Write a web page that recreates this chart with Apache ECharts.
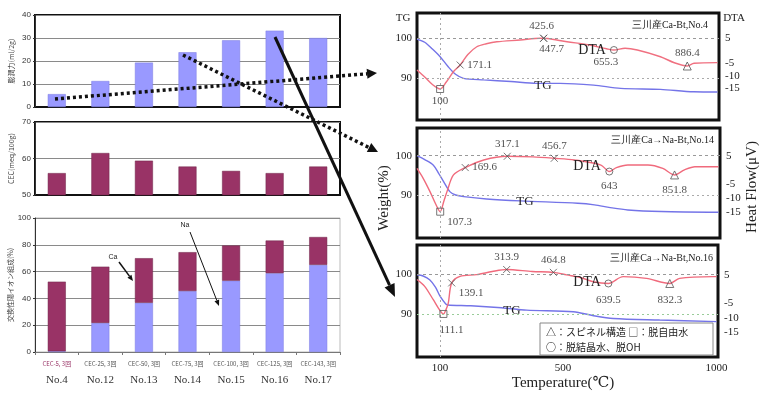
<!DOCTYPE html>
<html>
<head>
<meta charset="utf-8">
<script src="https://cdn.jsdelivr.net/npm/echarts@6/dist/echarts.min.js"></script>
<style>
  html, body { margin: 0; padding: 0; background: #fff; }
  #chart { width: 763px; height: 394px; }
</style>
</head>
<body>
<div id="chart"></div>
<script>
// ---- left side: bar panels ----
const categories = ['CEC-5, 3回', 'CEC-25, 3回', 'CEC-50, 3回', 'CEC-75, 3回', 'CEC-100, 3回', 'CEC-125, 3回', 'CEC-143, 3回'];
const sampleNos = ['No.4', 'No.12', 'No.13', 'No.14', 'No.15', 'No.16', 'No.17'];
const swelling = [5.6, 11.3, 19.3, 23.8, 29, 33.2, 30];
const cecValues = [56.0, 61.5, 59.4, 57.8, 56.6, 56.0, 57.8];
const naShare = [0.5, 21.7, 36.7, 45.5, 53.2, 58.8, 65];
const caShare = [52, 42, 33.3, 29, 26.3, 24.4, 20.8];

// ---- right side: TG / DTA curves (temperature, value) ----
const tgNo4 = [[25, 99.8], [50, 99], [75, 97.3], [100, 95.4], [125, 93], [150, 91], [176, 90], [241, 89.6], [330, 89.2],
  [414, 88.75], [490, 88.75], [598, 88.3], [686, 87.5], [815, 87.25], [923, 86.65], [1000, 86.6]];
const dtaNo4 = [[25, -7.7], [50, -10.5], [75, -13.5], [100, -15.3], [120, -12.5], [143, -8.4], [165, -5.7], [190, -1.5],
  [219, 1.6], [250, 2.8], [284, 3.6], [360, 4.3], [425, 5], [448, 4.9], [512, 3.6], [580, 2.4], [640, 0.8], [664, 0.3],
  [700, 1.0], [740, 0.3], [815, -2.4], [860, -4.8], [902, -6.1], [924, -5], [1000, -4.75]];
const tgNo14 = [[25, 100], [50, 99], [78, 97.6], [95, 95.5], [111, 93.4], [132, 90.8], [150, 90], [176, 89.6], [250, 89],
  [360, 88.5], [545, 87.9], [599, 87.5], [650, 86.8], [707, 86.2], [815, 85.8], [1000, 85.6]];
const dtaNo14 = [[25, 0.5], [45, -3], [67, -7.7], [85, -12], [100, -14.8], [112, -11], [122, -7.7], [143, -1.8], [181, 0.8],
  [241, 3.5], [317, 4.8], [400, 4.6], [469, 4.1], [534, 3.5], [620, 1.7], [647, -0.6], [670, 0.8], [707, 1.7], [772, 1.7],
  [820, 0.5], [858, -1.8], [890, 0], [924, 1.1], [1000, 1.1]];
const tgNo16 = [[25, 99.9], [45, 99.6], [67, 98.6], [85, 96.8], [100, 94.5], [118, 92.6], [125, 92.3], [200, 92.1],
  [300, 91.6], [382, 91.0], [534, 90.6], [600, 89.6], [664, 88.9], [815, 88.5], [1000, 88.1]];
const dtaNo16 = [[25, 3.4], [50, 1], [78, -3.7], [100, -7.5], [111, -8.7], [120, -7], [127, -4.8], [138, 2.2], [165, 4.5],
  [219, 5.1], [270, 6.2], [317, 6.9], [400, 6.2], [469, 5.9], [512, 5], [560, 4], [599, 2.6], [648, 2], [696, 4.4],
  [772, 3.8], [848, 2.0], [880, 3.8], [989, 4.4], [1000, 4.4]];

// peak markers: position, printed value, marker kind
const peaksNo4 = [[100, -15.3], [165, -5.7], [436, 5], [436, 5], [664, 0.3], [902, -6.1]];
const peakTextNo4 = ['100', '171.1', '425.6', '447.7', '655.3', '886.4'];
const peakKindNo4 = ['rect', 'x', 'x', 'x', 'circle', 'triangle'];
const peaksNo14 = [[100, -14.8], [181, 0.8], [317, 4.8], [469, 4.1], [647, -0.6], [858, -1.8]];
const peakTextNo14 = ['107.3', '169.6', '317.1', '456.7', '643', '851.8'];
const peakKindNo14 = ['rect', 'x', 'x', 'x', 'circle', 'triangle'];
const peaksNo16 = [[111, -8.7], [138, 2.2], [317, 6.9], [469, 5.9], [648, 2], [848, 2.0]];
const peakTextNo16 = ['111.1', '139.1', '313.9', '464.8', '639.5', '832.3'];
const peakKindNo16 = ['rect', 'x', 'x', 'x', 'circle', 'triangle'];

const tempTicks = [100, 500, 1000];
const tgTicks = [90, 100];
const dtaTicks = [5, -5, -10, -15];

const BLUE = '#9999ff';
const CRIMSON = '#993366';
const SERIF = '"Liberation Serif", "DejaVu Serif", serif';
const SANS = '"Liberation Sans", Arial, sans-serif';
const JP = '"Noto Sans CJK JP", sans-serif';

const chart = echarts.init(document.getElementById('chart'), null, { renderer: 'canvas' });

const SYMBOLS = {
  rect: 'rect',
  circle: 'circle',
  triangle: 'triangle',
  x: 'path://M0,0L10,10M10,0L0,10',
};

// label placement per marker (style only)
const peakLabelPos = [
  [{ position: 'bottom' }, { position: 'right' }, { position: 'top', offset: [-2, 0] }, { position: 'bottom', offset: [8, -2] }, { position: 'bottom', offset: [-8, 0] }, { position: 'top' }],
  [{ position: 'right', offset: [0, 10] }, { position: 'right' }, { position: 'top' }, { position: 'top' }, { position: 'bottom', offset: [0, 2] }, { position: 'bottom', offset: [0, 2] }],
  [{ position: 'bottom', offset: [8, 4] }, { position: 'right', offset: [0, 10] }, { position: 'top' }, { position: 'top' }, { position: 'bottom', offset: [0, 4] }, { position: 'bottom', offset: [0, 4] }],
];

function peakSeries(pts, texts, kinds, posIdx, xi, yi) {
  return {
    type: 'scatter',
    xAxisIndex: xi,
    yAxisIndex: yi,
    z: 5,
    itemStyle: { color: 'rgba(0,0,0,0)', borderColor: '#555', borderWidth: 1 },
    data: pts.map((p, i) => ({
      value: p,
      symbol: SYMBOLS[kinds[i]],
      symbolSize: kinds[i] === 'triangle' ? 8 : 7,
      label: Object.assign({
        show: true,
        formatter: texts[i],
        fontFamily: SERIF,
        fontSize: 11,
        color: '#222',
        distance: 3,
      }, peakLabelPos[posIdx][i]),
    })),
  };
}

function curve(data, xi, yi, color, withGuides, guideColor90) {
  const s = {
    type: 'line',
    xAxisIndex: xi,
    yAxisIndex: yi,
    data,
    showSymbol: false,
    smooth: 0.3,
    lineStyle: { color, width: 1.4 },
  };
  if (withGuides) {
    s.markLine = {
      silent: true,
      symbol: 'none',
      label: { show: false },
      lineStyle: { type: [3, 3], color: '#999', width: 1 },
      data: [
        { yAxis: 100 },
        { yAxis: 90, lineStyle: { color: guideColor90, type: [2, 3], width: 1 } },
        { xAxis: 100, lineStyle: { color: '#aaa', type: [2, 3], width: 1 } },
      ],
    };
  }
  return s;
}

const leftGrids = [
  { left: 35, top: 15, width: 305, height: 92, show: true, borderColor: '#111', borderWidth: 2 },
  { left: 35, top: 122, width: 305, height: 73, show: true, borderColor: '#111', borderWidth: 2 },
  { left: 35, top: 218, width: 305, height: 134, show: true, borderColor: '#bbb', borderWidth: 1 },
];
const rightGrids = [
  { left: 417, top: 13, width: 302, height: 107 },
  { left: 417, top: 128, width: 303, height: 110 },
  { left: 417, top: 245, width: 301, height: 112 },
].map(g => Object.assign(g, { show: true, borderColor: '#111', borderWidth: 3 }));

const leftY = (gi, min, max, interval, name) => ({
  type: 'value', gridIndex: gi, min, max, interval,
  name, nameLocation: 'middle', nameGap: 20, nameRotate: 90,
  nameTextStyle: { fontSize: 7, color: '#444', fontFamily: JP },
  axisLine: { show: true, lineStyle: { color: '#333' } },
  axisTick: { show: true, length: 2, lineStyle: { color: '#333' } },
  axisLabel: { fontSize: 8, color: '#333', margin: 4, fontFamily: SANS },
  splitLine: { show: true, lineStyle: { color: '#8a8a8a', width: 1 } },
});

const rightY = (gi, min, max, ticks, side) => ({
  type: 'value', gridIndex: gi, min, max, position: side,
  axisLine: { show: false }, axisTick: { show: false }, splitLine: { show: false },
  axisLabel: { customValues: ticks, formatter: v => String(v), fontSize: 11, color: '#222', fontFamily: SERIF, margin: side === 'left' ? 5 : 6 },
});

const tempX = (gi, showLabels) => ({
  type: 'value', gridIndex: gi, min: 25, max: 1005,
  axisLine: { show: false }, axisTick: { show: false }, splitLine: { show: false },
  axisLabel: { show: showLabels, customValues: tempTicks, formatter: v => String(v), fontSize: 11, color: '#222', fontFamily: SERIF, margin: 6 },
});

function arrow(x1, y1, x2, y2, width, dash, head, halfW) {
  const dx = x2 - x1, dy = y2 - y1;
  const len = Math.sqrt(dx * dx + dy * dy);
  const ux = dx / len, uy = dy / len;
  const bx = x2 - ux * head, by = y2 - uy * head;
  return [
    { type: 'line', z: 100, shape: { x1, y1, x2: bx, y2: by }, style: { stroke: '#111', lineWidth: width, lineDash: dash } },
    { type: 'polygon', z: 100, shape: { points: [[x2, y2], [bx - uy * halfW, by + ux * halfW], [bx + uy * halfW, by - ux * halfW]] }, style: { fill: '#111' } },
  ];
}

const txt = (x, y, text, size, font, extra, rotation) => ({
  type: 'text', x, y, z: 50, rotation: rotation || 0,
  style: Object.assign({ text, fontSize: size, fontFamily: font, fill: '#222', align: 'center', verticalAlign: 'middle' }, extra || {}),
});

const option = {
  animation: false,
  backgroundColor: '#fff',
  grid: leftGrids.concat(rightGrids),
  xAxis: [
    { type: 'category', gridIndex: 0, data: categories, axisLabel: { show: false }, axisTick: { show: false }, axisLine: { lineStyle: { color: '#111' } } },
    { type: 'category', gridIndex: 1, data: categories, axisLabel: { show: false }, axisTick: { show: false }, axisLine: { lineStyle: { color: '#111' } } },
    {
      type: 'category', gridIndex: 2, data: categories,
      axisLine: { lineStyle: { color: '#777' } },
      axisTick: { show: true, length: 3, lineStyle: { color: '#777' } },
      axisLabel: {
        interval: 0, margin: 6, hideOverlap: false,
        formatter: (v, i) => (i === 0 ? '{r|' + v + '}' : '{a|' + v + '}') + '\n{b|' + sampleNos[i] + '}',
        rich: {
          a: { fontSize: 6, color: '#555', fontFamily: JP, lineHeight: 12 },
          r: { fontSize: 6, color: CRIMSON, fontFamily: JP, lineHeight: 12 },
          b: { fontSize: 11, color: '#333', fontFamily: SERIF, lineHeight: 20 },
        },
      },
    },
    tempX(3, false),
    tempX(4, false),
    tempX(5, true),
  ],
  yAxis: [
    leftY(0, 0, 40, 10, '膨潤力(ml/2g)'),
    leftY(1, 50, 70, 10, 'CEC(meq/100g)'),
    leftY(2, 0, 100, 20, '交換性陽イオン組成(%)'),
    rightY(3, 79.6, 106.3, tgTicks, 'left'),
    rightY(3, -27.7, 15.1, dtaTicks, 'right'),
    rightY(4, 79.06, 107.05, tgTicks, 'left'),
    rightY(4, -24.1, 14.8, dtaTicks, 'right'),
    rightY(5, 79.2, 107.4, tgTicks, 'left'),
    rightY(5, -23.8, 15.5, dtaTicks, 'right'),
  ],
  series: [
    { type: 'bar', xAxisIndex: 0, yAxisIndex: 0, data: swelling, barWidth: 18, itemStyle: { color: BLUE, borderColor: '#7a7ae0', borderWidth: 0.5 } },
    { type: 'bar', xAxisIndex: 1, yAxisIndex: 1, data: cecValues, barWidth: 18, itemStyle: { color: CRIMSON, borderColor: '#6e2448', borderWidth: 0.5 } },
    { name: 'Na', type: 'bar', stack: 'ion', xAxisIndex: 2, yAxisIndex: 2, data: naShare, barWidth: 18, itemStyle: { color: BLUE, borderColor: '#7a7ae0', borderWidth: 0.5 } },
    { name: 'Ca', type: 'bar', stack: 'ion', xAxisIndex: 2, yAxisIndex: 2, data: caShare, barWidth: 18, itemStyle: { color: CRIMSON, borderColor: '#6e2448', borderWidth: 0.5 } },

    curve(tgNo4, 3, 3, '#7474e8', true, '#aaa'),
    curve(dtaNo4, 3, 4, '#f07080', false),
    peakSeries(peaksNo4, peakTextNo4, peakKindNo4, 0, 3, 4),

    curve(tgNo14, 4, 5, '#7474e8', true, '#aaa'),
    curve(dtaNo14, 4, 6, '#f06a7c', false),
    peakSeries(peaksNo14, peakTextNo14, peakKindNo14, 1, 4, 6),

    curve(tgNo16, 5, 7, '#7474e8', true, '#9c9'),
    curve(dtaNo16, 5, 8, '#f06a7c', false),
    peakSeries(peaksNo16, peakTextNo16, peakKindNo16, 2, 5, 8),
  ],
  graphic: [
    txt(403, 18, 'TG', 11, SERIF),
    txt(734, 18, 'DTA', 11, SERIF),
    txt(708, 25, '三川産Ca-Bt,No.4', 10, SERIF, { align: 'right' }),
    txt(714, 140, '三川産Ca→Na-Bt,No.14', 10, SERIF, { align: 'right' }),
    txt(713, 258, '三川産Ca→Na-Bt,No.16', 10, SERIF, { align: 'right' }),
    txt(592, 50, 'DTA', 14, SERIF),
    txt(587, 166, 'DTA', 14, SERIF),
    txt(587, 282, 'DTA', 14, SERIF),
    txt(543, 86, 'TG', 13, SERIF),
    txt(525, 202, 'TG', 13, SERIF),
    txt(512, 311, 'TG', 13, SERIF),
    txt(384, 198, 'Weight(%)', 15, SERIF, null, Math.PI / 2),
    txt(752, 187, 'Heat Flow(μV)', 15, SERIF, null, Math.PI / 2),
    txt(563, 383, 'Temperature(℃)', 15, SERIF),
    { type: 'rect', z: 40, shape: { x: 540, y: 323, width: 173, height: 32 }, style: { fill: '#fff', stroke: '#888', lineWidth: 1 } },
    txt(546, 332, '△：スピネル構造 □：脱自由水', 10, JP, { align: 'left' }),
    txt(546, 347, '○：脱結晶水、脱OH', 10, JP, { align: 'left' }),
    txt(113, 257, 'Ca', 7, SANS),
    txt(185, 225, 'Na', 7, SANS),
  ]
    .concat(arrow(55, 99, 377, 73, 3.5, [3, 3], 10, 5))
    .concat(arrow(183, 55, 378, 152, 3.5, [3, 3], 10, 5))
    .concat(arrow(275, 37, 395, 297, 3, null, 13, 5.5))
    .concat(arrow(119, 262, 133, 281, 1.5, null, 6, 2.5))
    .concat(arrow(190, 232, 219, 306, 1, null, 6, 2.5)),
};

chart.setOption(option);
</script>
</body>
</html>
